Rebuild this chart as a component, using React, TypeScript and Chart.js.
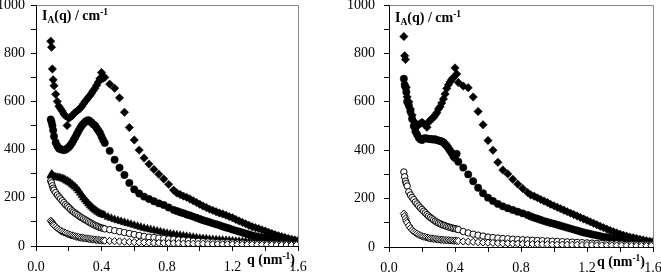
import React, { useEffect, useRef } from 'react';
import { Chart, registerables } from 'chart.js';
Chart.register(...registerables);

const FONT = "'Liberation Serif', 'Times New Roman', serif";

// q grids (nm^-1)
const Q_LOW = [0.09, 0.095, 0.10, 0.105, 0.11, 0.12, 0.13, 0.14, 0.15, 0.16, 0.17, 0.18, 0.19, 0.20, 0.21, 0.22, 0.23, 0.24, 0.25, 0.26, 0.27, 0.28, 0.29, 0.30, 0.31, 0.32, 0.33, 0.34, 0.35, 0.36, 0.37, 0.38, 0.39, 0.40, 0.41, 0.42];
const Q_MID = [0.45, 0.48, 0.51, 0.54, 0.57, 0.60, 0.63, 0.66, 0.69, 0.72, 0.75, 0.78, 0.81, 0.84];
const Q_MID_DENSE = [0.44, 0.46, 0.48, 0.50, 0.52, 0.54, 0.56, 0.58, 0.60, 0.62, 0.64, 0.66, 0.68, 0.70, 0.72, 0.74, 0.76, 0.78, 0.80, 0.82, 0.84];
const Q_HIGH = [0.86, 0.88, 0.90, 0.92, 0.94, 0.96, 0.98, 1.00, 1.02, 1.04, 1.06, 1.08, 1.10, 1.12, 1.14, 1.16, 1.18, 1.20, 1.22, 1.24, 1.26, 1.28, 1.30, 1.32, 1.34, 1.36, 1.38, 1.40, 1.42, 1.44, 1.46, 1.48, 1.50, 1.52, 1.54, 1.56, 1.58, 1.60];
const Q_HIGH_SPARSE = [0.87, 0.90, 0.93, 0.96, 0.99, 1.02, 1.05, 1.08, 1.11, 1.14, 1.17, 1.20, 1.23, 1.26, 1.29, 1.32, 1.35, 1.38, 1.41, 1.44, 1.47, 1.50, 1.53, 1.56, 1.59];

// ---- Left panel: I_A(q) / cm^-1 ----
const L_DIAMOND_LOW = [850, 825, 735, 690, 665, 630, 600, 580, 570, 560, 548, 540, 500, 530, 535, 540, 548, 555, 560, 566, 572, 580, 590, 600, 608, 617, 625, 635, 645, 655, 667, 680, 695, 720, 696, 700];
const L_DIAMOND_MID = [672, 655, 615, 555, 492, 440, 398, 365, 340, 318, 298, 278, 256, 232];
const L_DIAMOND_HIGH = [220, 214, 207, 202, 195, 188, 181, 173, 166, 160, 153, 148, 142, 137, 133, 128, 122, 117, 110, 104, 98, 92, 86, 80, 76, 72, 67, 62, 57, 52, 47, 43, 39, 35, 31, 28, 25, 22];

const L_CIRCLE_LOW = [525, 515, 500, 480, 455, 430, 415, 405, 402, 400, 398, 400, 405, 410, 418, 428, 440, 452, 465, 478, 490, 500, 508, 515, 520, 522, 518, 512, 505, 500, 490, 480, 470, 455, 440, 428];
const L_CIRCLE_MID = [395, 358, 325, 295, 262, 235, 218, 205, 195, 186, 177, 170, 160, 150];
const L_CIRCLE_HIGH = [145, 140, 136, 131, 127, 122, 117, 112, 107, 103, 99, 94, 90, 86, 81, 77, 73, 68, 64, 60, 56, 52, 48, 44, 41, 38, 35, 32, 29, 27, 24, 22, 20, 18, 17, 15, 14, 13];

const L_TRI_LOW = [292, 298, 295, 290, 288, 286, 285, 284, 282, 280, 278, 274, 270, 266, 262, 256, 250, 245, 238, 230, 220, 210, 200, 192, 184, 176, 168, 162, 155, 150, 145, 140, 136, 132, 130, 127];
const L_TRI_MID = [120, 115, 110, 106, 102, 98, 94, 90, 86, 82, 78, 74, 71, 68, 65, 62, 59, 56, 53, 50, 48];
const L_TRI_HIGH = [46, 44, 42, 40, 38, 36, 34, 32, 31, 30, 28, 27, 26, 25, 24, 23, 22, 21, 20, 19, 19, 18, 17, 17, 16, 15, 15, 14, 14, 13, 13, 12, 12, 12, 11, 11, 10, 10];

const L_OCIRCLE_LOW = [270, 262, 250, 240, 232, 222, 212, 204, 196, 188, 180, 172, 166, 160, 153, 146, 141, 136, 131, 126, 121, 117, 113, 109, 105, 101, 97, 93, 89, 86, 83, 80, 77, 75, 73, 71];
const L_OCIRCLE_MID = [68, 64, 60, 56, 52, 48, 44, 40, 37, 35, 33, 31, 29, 27];
const L_OCIRCLE_HIGH = [25, 24, 22, 20, 19, 18, 17, 16, 15, 14, 14, 13, 12, 12, 11, 11, 10, 10, 9, 9, 8, 8, 8, 7, 7];

const L_ODIAMOND_LOW = [105, 100, 95, 90, 86, 80, 74, 69, 64, 60, 57, 54, 51, 48, 46, 44, 42, 40, 38, 37, 35, 34, 33, 32, 31, 30, 29, 28, 27, 26, 25, 25, 24, 23, 23, 22];
const L_ODIAMOND_MID = [21, 20, 19, 18, 17, 16, 15, 15, 14, 13, 13, 12, 12, 11];
const L_ODIAMOND_HIGH = [11, 10, 10, 9, 9, 9, 8, 8, 8, 7, 7, 7, 6, 6, 6, 6, 5, 5, 5, 5, 4, 4, 4, 4, 4];

// ---- Right panel ----
const R_DIAMOND_LOW = [870, 790, 775, 660, 620, 600, 570, 545, 520, 505, 500, 505, 510, 515, 510, 505, 495, 515, 525, 530, 535, 545, 555, 570, 580, 595, 612, 632, 655, 670, 682, 692, 700, 740, 715, 680];
const R_DIAMOND_MID = [665, 658, 620, 560, 505, 440, 400, 350, 318, 302, 280, 260, 242, 225];
const R_DIAMOND_HIGH = [215, 210, 203, 196, 190, 184, 176, 170, 164, 158, 152, 146, 140, 134, 128, 122, 116, 110, 104, 98, 92, 86, 80, 74, 68, 63, 58, 53, 49, 45, 41, 38, 35, 32, 29, 26, 24, 22];

const R_CIRCLE_LOW = [695, 670, 660, 640, 600, 585, 560, 530, 500, 478, 465, 452, 445, 442, 448, 450, 448, 447, 446, 445, 444, 445, 442, 440, 438, 436, 432, 425, 418, 408, 398, 388, 375, 368, 385, 352];
const R_CIRCLE_MID = [328, 300, 272, 245, 222, 204, 190, 178, 168, 160, 153, 146, 139, 132];
const R_CIRCLE_HIGH = [126, 121, 117, 112, 107, 103, 99, 96, 92, 88, 84, 80, 76, 72, 68, 64, 60, 57, 54, 51, 48, 45, 42, 40, 37, 35, 33, 31, 29, 27, 26, 24, 23, 21, 20, 19, 18, 17];

const R_OCIRCLE_LOW = [310, 290, 272, 262, 252, 228, 215, 205, 196, 186, 178, 170, 162, 155, 148, 141, 134, 128, 122, 117, 112, 107, 103, 99, 96, 93, 90, 88, 85, 83, 81, 79, 77, 76, 74, 72];
const R_OCIRCLE_MID = [64, 58, 53, 49, 45, 41, 39, 37, 35, 34, 32, 31, 30, 29];
const R_OCIRCLE_HIGH = [28, 27, 26, 25, 24, 23, 22, 21, 20, 19, 18, 17, 16, 15, 15, 14, 13, 13, 12, 11, 11, 10, 10, 9, 9];

const R_ODIAMOND_LOW = [138, 128, 118, 108, 100, 88, 78, 70, 64, 59, 55, 51, 48, 45, 43, 41, 39, 37, 36, 35, 34, 33, 32, 31, 30, 30, 29, 29, 28, 28, 27, 27, 26, 26, 25, 25];
const R_ODIAMOND_MID = [23, 22, 21, 20, 19, 18, 17, 16, 15, 15, 14, 14, 13, 13];
const R_ODIAMOND_HIGH = [12, 12, 11, 11, 10, 10, 10, 9, 9, 9, 8, 8, 8, 7, 7, 7, 6, 6, 6, 6, 5, 5, 5, 5, 5];

const X_TICKS = [0, 0.2, 0.4, 0.6, 0.8, 1.0, 1.2, 1.4, 1.6];

function join(qs: number[][], vs: number[][]) {
  const out: { x: number; y: number }[] = [];
  qs.forEach((q, k) => q.forEach((x, i) => out.push({ x, y: vs[k][i] })));
  return out;
}

const STYLES: Record<string, any> = {
  fDiamond: { pointStyle: 'rectRot', pointRadius: 4.2, pointBackgroundColor: '#000', pointBorderColor: '#000', pointBorderWidth: 0.5 },
  fCircle: { pointStyle: 'circle', pointRadius: 3.7, pointBackgroundColor: '#000', pointBorderColor: '#000', pointBorderWidth: 0.5 },
  fTri: { pointStyle: 'triangle', pointRadius: 4.6, pointBackgroundColor: '#000', pointBorderColor: '#000', pointBorderWidth: 0.5 },
  oCircle: { pointStyle: 'circle', pointRadius: 3.2, pointBackgroundColor: '#fff', pointBorderColor: '#000', pointBorderWidth: 1 },
  oDiamond: { pointStyle: 'rectRot', pointRadius: 3.6, pointBackgroundColor: '#fff', pointBorderColor: '#000', pointBorderWidth: 1 },
};

function ds(data: { x: number; y: number }[], style: string) {
  return { data, showLine: false, pointHoverRadius: 0, ...STYLES[style] };
}

const LEFT_DATASETS = () => [
  ds(join([Q_LOW, Q_MID, Q_HIGH_SPARSE], [L_ODIAMOND_LOW, L_ODIAMOND_MID, L_ODIAMOND_HIGH]), 'oDiamond'),
  ds(join([Q_LOW, Q_MID, Q_HIGH_SPARSE], [L_OCIRCLE_LOW, L_OCIRCLE_MID, L_OCIRCLE_HIGH]), 'oCircle'),
  ds(join([Q_LOW, Q_MID_DENSE, Q_HIGH], [L_TRI_LOW, L_TRI_MID, L_TRI_HIGH]), 'fTri'),
  ds(join([Q_LOW, Q_MID, Q_HIGH], [L_CIRCLE_LOW, L_CIRCLE_MID, L_CIRCLE_HIGH]), 'fCircle'),
  ds(join([Q_LOW, Q_MID, Q_HIGH], [L_DIAMOND_LOW, L_DIAMOND_MID, L_DIAMOND_HIGH]), 'fDiamond'),
];

const RIGHT_DATASETS = () => [
  ds(join([Q_LOW, Q_MID, Q_HIGH_SPARSE], [R_ODIAMOND_LOW, R_ODIAMOND_MID, R_ODIAMOND_HIGH]), 'oDiamond'),
  ds(join([Q_LOW, Q_MID, Q_HIGH_SPARSE], [R_OCIRCLE_LOW, R_OCIRCLE_MID, R_OCIRCLE_HIGH]), 'oCircle'),
  ds(join([Q_LOW, Q_MID, Q_HIGH], [R_CIRCLE_LOW, R_CIRCLE_MID, R_CIRCLE_HIGH]), 'fCircle'),
  ds(join([Q_LOW, Q_MID, Q_HIGH], [R_DIAMOND_LOW, R_DIAMOND_MID, R_DIAMOND_HIGH]), 'fDiamond'),
];

type PanelProps = {
  width: number;
  yAxisWidth: number;
  yTickPad: number;
  padRight: number;
  xAxisHeight: number;
  yTitleBaseline: number;
  xTitleX: number;
  xTitleBaseline: number;
  datasets: () => any[];
};

function drawRich(ctx: CanvasRenderingContext2D, x: number, y: number, parts: [string, number][]) {
  let cx = x;
  for (const [t, mode] of parts) {
    const size = mode === 0 ? 14 : 9.5;
    const dy = mode === 1 ? -5.5 : mode === -1 ? 3 : 0;
    ctx.font = `bold ${size}px ${FONT}`;
    ctx.fillText(t, cx, y + dy);
    cx += ctx.measureText(t).width;
  }
}

function Panel(p: PanelProps) {
  const ref = useRef<HTMLCanvasElement>(null);
  useEffect(() => {
    const frame = {
      id: 'frame',
      afterDraw(chart: any) {
        const { ctx, chartArea: a } = chart;
        ctx.save();
        ctx.strokeStyle = '#8a8a8a';
        ctx.lineWidth = 1;
        ctx.beginPath();
        ctx.moveTo(Math.round(a.left) + 0.5, Math.round(a.top) + 0.5);
        ctx.lineTo(Math.round(a.right) + 0.5, Math.round(a.top) + 0.5);
        ctx.lineTo(Math.round(a.right) + 0.5, Math.round(a.bottom));
        ctx.stroke();
        ctx.fillStyle = '#000';
        ctx.textBaseline = 'alphabetic';
        ctx.textAlign = 'left';
        drawRich(ctx, a.left + 6, p.yTitleBaseline, [['I', 0], ['A', -1], ['(q) / cm', 0], ['-1', 1]]);
        drawRich(ctx, p.xTitleX, p.xTitleBaseline, [['q (nm', 0], ['-1', 1], [')', 0]]);
        ctx.restore();
      },
    };
    const chart = new Chart(ref.current!, {
      type: 'scatter',
      data: { datasets: p.datasets() },
      plugins: [frame],
      options: {
        animation: false,
        responsive: false,
        devicePixelRatio: 1,
        events: [],
        layout: { padding: { top: 5, right: p.padRight, left: 0, bottom: 0 } },
        plugins: { legend: { display: false }, tooltip: { enabled: false } },
        scales: {
          x: {
            type: 'linear',
            min: 0,
            max: 1.6,
            afterBuildTicks: (s: any) => { s.ticks = X_TICKS.map((v) => ({ value: v })); },
            afterFit: (s: any) => { s.height = p.xAxisHeight; s.paddingLeft = 0; s.paddingRight = 0; },
            border: { display: true, color: '#000', width: 1 },
            grid: { display: true, drawOnChartArea: false, drawTicks: true, tickLength: 5, color: '#000' },
            ticks: {
              autoSkip: false,
              maxRotation: 0,
              minRotation: 0,
              padding: 8,
              color: '#000',
              font: { family: FONT, size: 14 },
              callback: (v: any) => { const r = Math.round(Number(v) * 10); return r % 4 === 0 ? (r / 10).toFixed(1) : ''; },
            },
          },
          y: {
            type: 'linear',
            min: 0,
            max: 1000,
            afterFit: (s: any) => { s.width = p.yAxisWidth; s.paddingTop = 0; s.paddingBottom = 0; },
            border: { display: true, color: '#000', width: 1 },
            grid: { display: true, drawOnChartArea: false, drawTicks: true, tickLength: 5, color: '#000' },
            ticks: {
              stepSize: 100,
              padding: p.yTickPad,
              color: '#000',
              font: { family: FONT, size: 14 },
              callback: (v: any) => (Number(v) % 200 === 0 ? String(v) : ''),
            },
          },
        },
      } as any,
    });
    return () => chart.destroy();
  }, []);
  return <canvas ref={ref} width={p.width} height={275} style={{ display: 'block', width: p.width, height: 275 }} />;
}

export default function App() {
  return (
    <div style={{ position: 'absolute', left: 0, top: 0, width: 661, height: 275, display: 'flex', background: '#fff' }}>
      <Panel width={330} yAxisWidth={36} yTickPad={6} padRight={32} xAxisHeight={29} yTitleBaseline={20} xTitleX={247} xTitleBaseline={264} datasets={LEFT_DATASETS} />
      <Panel width={331} yAxisWidth={59} yTickPad={9} padRight={8} xAxisHeight={28} yTitleBaseline={22} xTitleX={267} xTitleBaseline={266} datasets={RIGHT_DATASETS} />
    </div>
  );
}
